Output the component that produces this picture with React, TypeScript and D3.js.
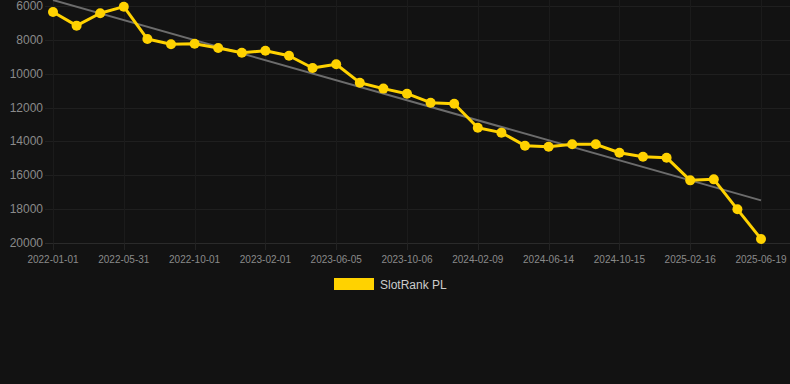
import * as d3 from "d3";

const W = 790;
const H = 384;

const DATES = [
  "2022-01-01", "2022-02-20", "2022-04-11", "2022-05-31", "2022-07-11",
  "2022-08-21", "2022-10-01", "2022-11-11", "2022-12-22", "2023-02-01",
  "2023-03-14", "2023-04-25", "2023-06-05", "2023-07-16", "2023-08-26",
  "2023-10-06", "2023-11-16", "2023-12-29", "2024-02-09", "2024-03-21",
  "2024-05-03", "2024-06-14", "2024-07-25", "2024-09-04", "2024-10-15",
  "2024-11-25", "2025-01-06", "2025-02-16", "2025-03-29", "2025-05-09",
  "2025-06-19",
];

const RANKS = [
  6350, 7160, 6430, 6040, 7950, 8260, 8230, 8480, 8760, 8640,
  8940, 9660, 9440, 10530, 10880, 11180, 11710, 11770, 13190, 13480,
  14250, 14310, 14170, 14170, 14670, 14900, 14960, 16300, 16240, 18010,
  19760,
];

// trend line endpoints (first and last date)
const TREND = [5650, 17480];

const Y_TICKS = [6000, 8000, 10000, 12000, 14000, 16000, 18000, 20000];

const SERIES_NAME = "SlotRank PL";
const GOLD = "#ffd200";
const FONT = "'Liberation Sans', Arial, Helvetica, sans-serif";

export default function App() {
  const x = d3.scalePoint<string>().domain(DATES).range([53, 761]);
  const y = d3.scaleLinear().domain([6000, 20000]).range([6, 243]);

  const line = d3
    .line<number>()
    .x((_, i) => x(DATES[i]) ?? 0)
    .y((d) => y(d));

  const shownTicks = DATES.filter((_, i) => i % 3 === 0);
  const first = DATES[0];
  const last = DATES[DATES.length - 1];

  return (
    <svg
      width={W}
      height={H}
      style={{ position: "fixed", left: 0, top: 0, background: "#121212" }}
      fontFamily={FONT}
    >
      <rect width={W} height={H} fill="#121212" />
      {/* horizontal grid */}
      {Y_TICKS.map((t) => (
        <g key={t}>
          <line
            x1={45}
            x2={W}
            y1={Math.round(y(t)) + 0.5}
            y2={Math.round(y(t)) + 0.5}
            stroke={t === 20000 ? "#2a2a2a" : "#1f1f1f"}
            strokeWidth={1}
          />
          <text
            x={43}
            y={y(t)}
            textAnchor="end"
            dominantBaseline="central"
            fontSize={12}
            fill="#8a8a8a"
          >
            {t}
          </text>
        </g>
      ))}
      {/* vertical grid on shown ticks */}
      {shownTicks.map((d) => {
        const xx = Math.round(x(d) ?? 0) + 0.5;
        return (
          <g key={d}>
            <line x1={xx} x2={xx} y1={0} y2={243} stroke="#1b1b1b" />
            <line x1={xx} x2={xx} y1={243} y2={250} stroke="#232323" />
            <text
              x={x(d)}
              y={259}
              textAnchor="middle"
              dominantBaseline="central"
              fontSize={10}
              fill="#8a8a8a"
            >
              {d}
            </text>
          </g>
        );
      })}
      {/* trend */}
      <line
        x1={x(first)}
        x2={x(last)}
        y1={y(TREND[0])}
        y2={y(TREND[1])}
        stroke="#6c6c6c"
        strokeWidth={2}
      />
      {/* series */}
      <path
        d={line(RANKS) ?? ""}
        fill="none"
        stroke={GOLD}
        strokeWidth={3}
        strokeLinejoin="round"
      />
      {RANKS.map((v, i) => (
        <circle key={i} cx={x(DATES[i])} cy={y(v)} r={5} fill={GOLD} />
      ))}
      {/* legend */}
      <rect x={334} y={278} width={40} height={12} fill={GOLD} />
      <text
        x={380}
        y={284.5}
        dominantBaseline="central"
        fontSize={12}
        fill="#cccccc"
      >
        {SERIES_NAME}
      </text>
    </svg>
  );
}
